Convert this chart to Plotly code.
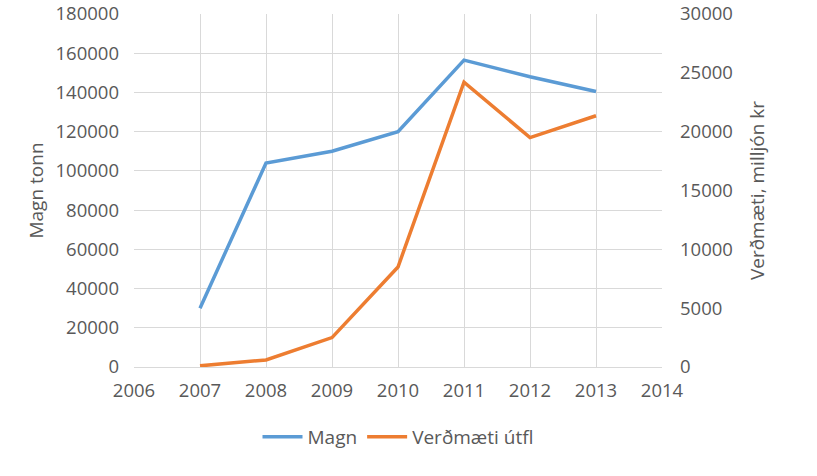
import plotly.graph_objects as go

years = [2007, 2008, 2009, 2010, 2011, 2012, 2013]
magn = [30000, 104000, 110000, 120000, 156500, 148000, 140500]
verdmaeti = [100, 600, 2500, 8500, 24200, 19500, 21350]

font = "Open Sans, Liberation Sans, sans-serif"
fig = go.Figure()
fig.add_trace(go.Scatter(x=years, y=magn, name="Magn", mode="lines",
                         line=dict(color="#5b9bd5", width=3.5)))
fig.add_trace(go.Scatter(x=years, y=verdmaeti, name="Verðmæti útfl", mode="lines",
                         line=dict(color="#ed7d31", width=3.5), yaxis="y2"))

fig.update_layout(
    width=817, height=476,
    margin=dict(l=134, r=155, t=14, b=109),
    plot_bgcolor="white", paper_bgcolor="white",
    font=dict(family=font, size=18.5, color="#595959"),
    xaxis=dict(range=[2006, 2014], tickmode="linear", dtick=1, showgrid=True,
               gridcolor="#d9d9d9", gridwidth=1, zeroline=False, automargin=False,
               showline=True, linecolor="#d9d9d9", mirror=False, ticks="",
               ticklabelstandoff=7, tickformat="d"),
    yaxis=dict(range=[0, 180000], tickmode="linear", dtick=20000, showgrid=True,
               gridcolor="#d9d9d9", zeroline=False, showline=False, automargin=False,
               tickformat="d", ticklabelstandoff=14,
               title=dict(text="Magn tonn", standoff=6, font=dict(size=19))),
    yaxis2=dict(range=[0, 30000], tickmode="linear", dtick=5000, overlaying="y",
                side="right", showgrid=False, zeroline=False, showline=False,
                automargin=False, tickformat="d", ticklabelstandoff=17,
                title=dict(text="Verðmæti, milljón kr", standoff=18, font=dict(size=19))),
    legend=dict(orientation="h", x=0.5, xanchor="center", y=-0.198, yanchor="middle",
                font=dict(size=19), itemwidth=40, tracegroupgap=0),
)
fig.write_html("out.html", config={"displayModeBar": False},
               post_script="document.body.style.margin='0';document.body.style.overflow='hidden';")
